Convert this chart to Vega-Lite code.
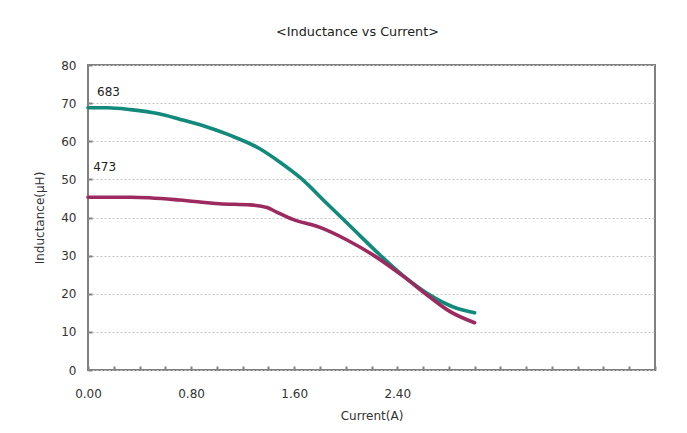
{
  "$schema": "https://vega.github.io/schema/vega-lite/v6.json",
  "width": 567,
  "height": 305,
  "autosize": {"type": "none"},
  "padding": {"left": 88, "top": 65, "right": 32, "bottom": 63},
  "background": "white",
  "title": {
    "text": "<Inductance vs Current>",
    "font": "DejaVu Sans",
    "fontSize": 12.8,
    "fontWeight": "normal",
    "color": "#222222",
    "anchor": "middle",
    "dx": -14,
    "offset": 20
  },
  "config": {
    "view": {"stroke": "#808080", "strokeWidth": 2},
    "axis": {
      "labelFont": "DejaVu Sans",
      "titleFont": "DejaVu Sans",
      "labelFontSize": 12,
      "titleFontSize": 12,
      "labelColor": "#333333",
      "titleColor": "#333333",
      "titleFontWeight": "normal",
      "domain": false,
      "tickColor": "#808080",
      "tickWidth": 2
    }
  },
  "datasets": {
    "curves": [
      {"series": "683", "current": 0.0, "L": 68.8},
      {"series": "683", "current": 0.15, "L": 68.8},
      {"series": "683", "current": 0.33, "L": 68.3},
      {"series": "683", "current": 0.55, "L": 67.2},
      {"series": "683", "current": 0.71, "L": 65.8},
      {"series": "683", "current": 0.9, "L": 64.0},
      {"series": "683", "current": 1.1, "L": 61.6},
      {"series": "683", "current": 1.33, "L": 58.1},
      {"series": "683", "current": 1.49, "L": 54.5},
      {"series": "683", "current": 1.645, "L": 50.5},
      {"series": "683", "current": 1.85, "L": 43.8},
      {"series": "683", "current": 2.06, "L": 36.9},
      {"series": "683", "current": 2.24, "L": 31.0},
      {"series": "683", "current": 2.45, "L": 24.6},
      {"series": "683", "current": 2.65, "L": 19.7},
      {"series": "683", "current": 2.83, "L": 16.6},
      {"series": "683", "current": 3.0, "L": 15.0},
      {"series": "473", "current": 0.0, "L": 45.3},
      {"series": "473", "current": 0.33, "L": 45.3},
      {"series": "473", "current": 0.71, "L": 44.6},
      {"series": "473", "current": 1.02, "L": 43.6},
      {"series": "473", "current": 1.26, "L": 43.3},
      {"series": "473", "current": 1.39, "L": 42.6},
      {"series": "473", "current": 1.46, "L": 41.5},
      {"series": "473", "current": 1.59, "L": 39.5},
      {"series": "473", "current": 1.8, "L": 37.4},
      {"series": "473", "current": 2.01, "L": 34.1},
      {"series": "473", "current": 2.22, "L": 30.0},
      {"series": "473", "current": 2.45, "L": 24.5},
      {"series": "473", "current": 2.65, "L": 19.2},
      {"series": "473", "current": 2.81, "L": 15.3},
      {"series": "473", "current": 3.0, "L": 12.4}
    ],
    "labels": [
      {"label": "683", "current": 0.07, "L": 72.9},
      {"label": "473", "current": 0.04, "L": 53.2}
    ]
  },
  "encoding": {
    "x": {
      "field": "current",
      "type": "quantitative",
      "scale": {"domain": [0, 4.4], "nice": false, "zero": true},
      "axis": {
        "title": "Current(A)",
        "values": [0, 0.2, 0.4, 0.6, 0.8, 1.0, 1.2, 1.4, 1.6, 1.8, 2.0, 2.2, 2.4, 2.6, 2.8, 3.0, 3.2, 3.4, 3.6, 3.8, 4.0, 4.2, 4.4],
        "tickCount": 40,
        "labelExpr": "indexof([0, 0.8, 1.6, 2.4], datum.value) >= 0 ? format(datum.value, '.2f') : ''",
        "labelOverlap": false,
        "labelFlush": false,
        "grid": false,
        "tickSize": -4,
        "labelPadding": 22,
        "titlePadding": 11
      }
    },
    "y": {
      "field": "L",
      "type": "quantitative",
      "scale": {"domain": [0, 80], "nice": false},
      "axis": {
        "title": "Inductance(μH)",
        "values": [0, 10, 20, 30, 40, 50, 60, 70, 80],
        "tickCount": 20,
        "labelOverlap": false,
        "labelFlush": false,
        "grid": true,
        "gridColor": "#c4c4c4",
        "gridDash": [2, 2],
        "gridWidth": 1,
        "tickSize": -4,
        "labelPadding": 16,
        "titlePadding": 14
      }
    }
  },
  "layer": [
    {
      "data": {"name": "curves"},
      "mark": {"type": "line", "interpolate": "monotone", "strokeWidth": 3.6, "strokeCap": "round"},
      "encoding": {
        "color": {
          "field": "series",
          "type": "nominal",
          "scale": {"domain": ["683", "473"], "range": ["#128A7B", "#9C2A5F"]},
          "legend": null
        }
      }
    },
    {
      "data": {"name": "labels"},
      "mark": {"type": "text", "align": "left", "baseline": "middle", "font": "DejaVu Sans", "fontSize": 12, "color": "#222222"},
      "encoding": {
        "text": {"field": "label"}
      }
    }
  ]
}
